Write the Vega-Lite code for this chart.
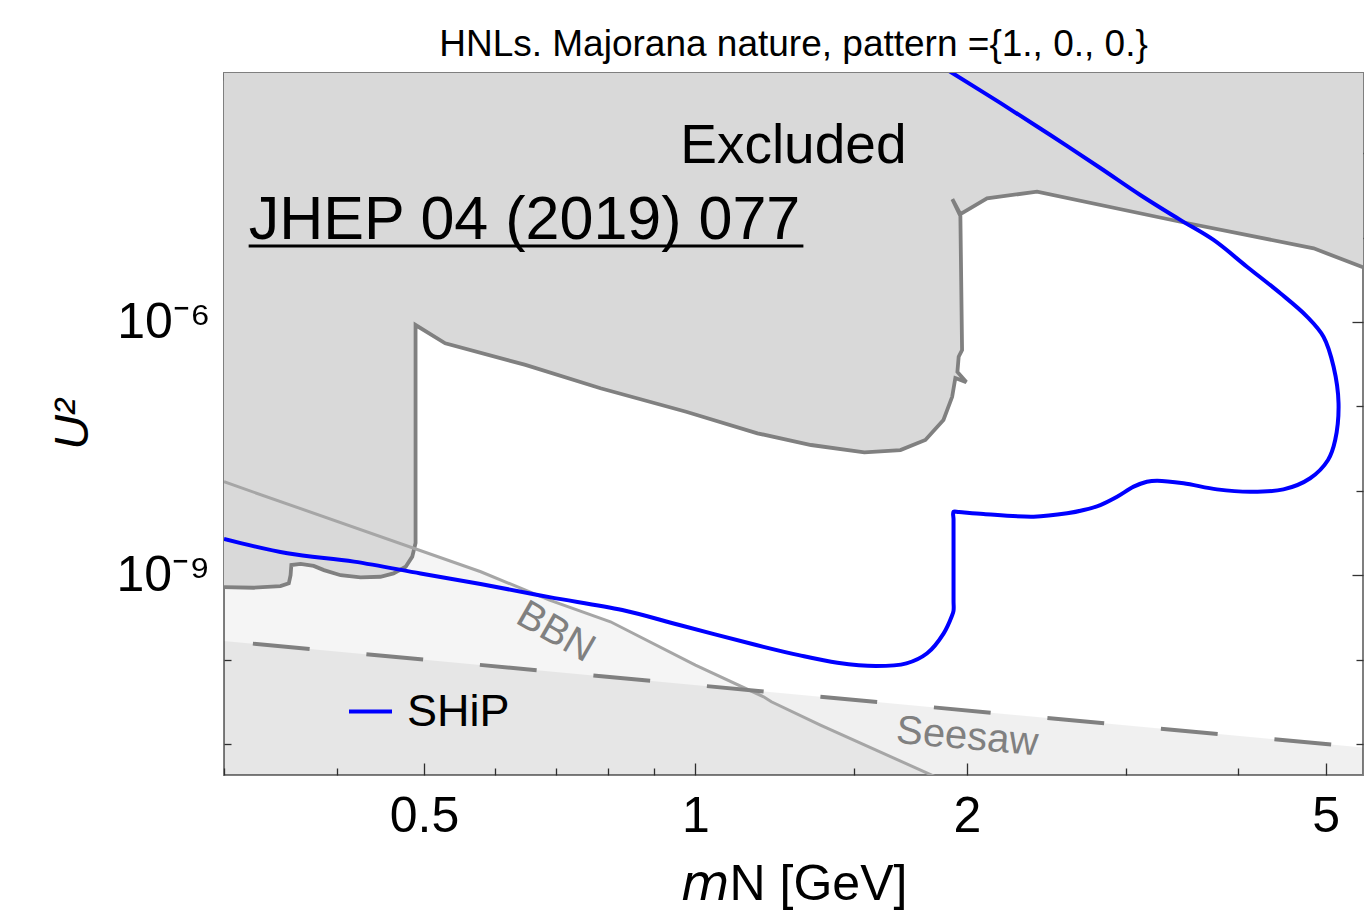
{
  "$schema": "https://vega.github.io/schema/vega-lite/v6.json",
  "width": 1139,
  "height": 702,
  "autosize": {"type": "none"},
  "padding": {"left": 224, "top": 73, "right": 1, "bottom": 143},
  "title": {"text": "HNLs. Majorana nature, pattern ={1., 0., 0.}", "fontSize": 37, "fontWeight": "normal", "font": "Liberation Sans", "color": "black", "anchor": "middle", "offset": -29, "baseline": "bottom"},
  "config": {"font": "Liberation Sans", "view": {"stroke": "#7f7f7f", "strokeWidth": 2}, "axis": {"grid": false, "domain": false}},
  "datasets": {
    "excl": [
      {"m": 0.3, "u": 7.25e-10, "k": "b"}, {"m": 0.3236, "u": 7.11e-10, "k": "b"}, {"m": 0.3465, "u": 7.45e-10, "k": "b"}, {"m": 0.354, "u": 8.02e-10, "k": "b"}, {"m": 0.3556, "u": 1.0e-9, "k": "b"}, {"m": 0.3563, "u": 1.32e-9, "k": "b"}, {"m": 0.3648, "u": 1.36e-9, "k": "b"}, {"m": 0.3772, "u": 1.29e-9, "k": "b"}, {"m": 0.3872, "u": 1.15e-9, "k": "b"}, {"m": 0.4041, "u": 1.0e-9, "k": "b"}, {"m": 0.4251, "u": 9.44e-10, "k": "b"}, {"m": 0.4473, "u": 9.6e-10, "k": "b"}, {"m": 0.4625, "u": 1.05e-9, "k": "b"}, {"m": 0.4771, "u": 1.26e-9, "k": "b"}, {"m": 0.4852, "u": 1.66e-9, "k": "b"}, {"m": 0.4893, "u": 2.41e-9, "k": "b"}, {"m": 0.4893, "u": 9.21e-7, "k": "b"}, {"m": 0.5278, "u": 5.6e-7, "k": "b"}, {"m": 0.6478, "u": 3.1e-7, "k": "b"}, {"m": 0.7846, "u": 1.64e-7, "k": "b"}, {"m": 0.9765, "u": 8.65e-8, "k": "b"}, {"m": 1.1716, "u": 4.8e-8, "k": "b"}, {"m": 1.3436, "u": 3.49e-8, "k": "b"}, {"m": 1.5394, "u": 2.86e-8, "k": "b"}, {"m": 1.6878, "u": 3.04e-8, "k": "b"}, {"m": 1.7989, "u": 4.0e-8, "k": "b"}, {"m": 1.8838, "u": 6.9e-8, "k": "b"}, {"m": 1.9262, "u": 1.3e-7, "k": "b"}, {"m": 1.9419, "u": 2.17e-7, "k": "b"}, {"m": 1.997, "u": 1.94e-7, "k": "b"}, {"m": 1.9522, "u": 2.56e-7, "k": "b"}, {"m": 1.9586, "u": 3.88e-7, "k": "b"}, {"m": 1.9756, "u": 4.66e-7, "k": "b"}, {"m": 1.9671, "u": 1.8e-5, "k": "b"}, {"m": 1.9272, "u": 2.86e-5, "k": "b"}, {"m": 1.9671, "u": 1.9e-5, "k": "b"}, {"m": 2.1057, "u": 2.92e-5, "k": "b"}, {"m": 2.3925, "u": 3.5e-5, "k": "b"}, {"m": 3.449, "u": 1.54e-5, "k": "b"}, {"m": 4.8486, "u": 7.46e-6, "k": "b"}, {"m": 5.5, "u": 4.45e-6, "k": "b"},
      {"m": 5.5, "u": 1e-3, "k": "c"}, {"m": 0.3, "u": 1e-3, "k": "c"}
    ],
    "bbn": [
      {"m": 0.3, "u": 1.28e-8}, {"m": 0.578, "u": 1.1e-9}, {"m": 0.689, "u": 5.08e-10}, {"m": 0.805, "u": 2.81e-10}, {"m": 1.0, "u": 8.63e-11}, {"m": 1.19, "u": 3.63e-11}, {"m": 1.214, "u": 3.17e-11}, {"m": 1.376, "u": 1.68e-11}, {"m": 1.845, "u": 4.1e-12}, {"m": 2.0, "u": 2.78e-12}
    ],
    "seesaw": [
      {"m": 0.3, "u": 1.667e-10}, {"m": 5.5, "u": 9.09e-12}
    ],
    "ship": [
      {"m": 0.3, "u": 2.69e-9}, {"m": 0.3527, "u": 1.82e-9}, {"m": 0.4181, "u": 1.45e-9}, {"m": 0.4956, "u": 1.05e-9}, {"m": 0.5776, "u": 7.87e-10}, {"m": 0.6887, "u": 5.5e-10}, {"m": 0.8296, "u": 3.87e-10}, {"m": 0.96, "u": 2.57e-10}, {"m": 1.168, "u": 1.49e-10}, {"m": 1.302, "u": 1.13e-10}, {"m": 1.437, "u": 9.19e-11}, {"m": 1.586, "u": 8.4e-11}, {"m": 1.714, "u": 9.04e-11}, {"m": 1.807, "u": 1.19e-10}, {"m": 1.885, "u": 2.05e-10}, {"m": 1.925, "u": 3.3e-10}, {"m": 1.933, "u": 3.8e-10}, {"m": 1.933, "u": 5.0e-10}, {"m": 1.933, "u": 1.0e-9}, {"m": 1.933, "u": 2.5e-9}, {"m": 1.933, "u": 4.6e-9}, {"m": 1.933, "u": 5.65e-9}, {"m": 1.96, "u": 5.6e-9}, {"m": 2.087, "u": 5.31e-9}, {"m": 2.372, "u": 4.94e-9}, {"m": 2.584, "u": 5.41e-9}, {"m": 2.695, "u": 5.92e-9}, {"m": 2.812, "u": 6.79e-9}, {"m": 2.935, "u": 8.51e-9}, {"m": 3.062, "u": 1.12e-8}, {"m": 3.167, "u": 1.28e-8}, {"m": 3.25, "u": 1.32e-8}, {"m": 3.478, "u": 1.23e-8}, {"m": 3.788, "u": 1.04e-8}, {"m": 4.124, "u": 9.76e-9}, {"m": 4.489, "u": 1.04e-8}, {"m": 4.806, "u": 1.41e-8}, {"m": 5.03, "u": 2.32e-8}, {"m": 5.123, "u": 4.0e-8}, {"m": 5.167, "u": 1.09e-7}, {"m": 5.102, "u": 2.95e-7}, {"m": 4.972, "u": 6.7e-7}, {"m": 4.767, "u": 1.16e-6}, {"m": 4.453, "u": 2.19e-6}, {"m": 4.089, "u": 4.52e-6}, {"m": 3.755, "u": 9.37e-6}, {"m": 3.449, "u": 1.62e-5}, {"m": 3.114, "u": 3.2e-5}, {"m": 2.812, "u": 6.68e-5}, {"m": 2.475, "u": 1.64e-4}, {"m": 2.178, "u": 3.94e-4}, {"m": 1.927, "u": 8.91e-4}, {"m": 1.826, "u": 1.27e-3}
    ]
  },
  "resolve": {"scale": {"x": "shared", "y": "shared"}, "axis": {"x": "independent", "y": "independent"}},
  "layer": [
    {
      "data": {"name": "bbn"},
      "mark": {"type": "area", "color": "black", "opacity": 0.04, "clip": true},
      "encoding": {
        "x": {"field": "m", "type": "quantitative", "scale": {"type": "log", "domain": [0.3, 5.5], "nice": false},
              "axis": {"orient": "bottom", "values": [0.5, 1, 2, 5], "format": "~g", "ticks": false, "domain": false, "labelFontSize": 50, "labelColor": "black", "labelPadding": 16, "labelFlush": false, "labelOverlap": false, "title": "𝘮N [GeV]", "titleFontSize": 50, "titleFontWeight": "normal", "titleColor": "black", "titlePadding": 18}},
        "y": {"field": "u", "type": "quantitative", "scale": {"type": "log", "domain": [4.3e-12, 8.91e-4], "nice": false},
              "axis": {"orient": "left", "values": [1e-9, 1e-6], "labelExpr": "datum.value < 1e-7 ? '10⁻⁹' : '10⁻⁶'", "ticks": false, "domain": false, "labelFontSize": 50, "labelColor": "black", "labelPadding": 14, "labelOverlap": false, "title": "U²", "titleFontSize": 48, "titleFontStyle": "italic", "titleFontWeight": "normal", "titleColor": "black", "titlePadding": 18}},
        "y2": {"datum": 1e-12}
      }
    },
    {
      "data": {"name": "seesaw"},
      "mark": {"type": "area", "color": "black", "opacity": 0.06, "clip": true},
      "encoding": {
        "x": {"field": "m", "type": "quantitative", "scale": {"type": "log", "domain": [0.3, 5.5], "nice": false},
              "axis": {"orient": "bottom", "values": [0.5, 1, 2, 5], "labels": false, "tickSize": -12, "tickWidth": 1.3, "tickColor": "#333", "domain": false, "title": null}},
        "y": {"field": "u", "type": "quantitative", "scale": {"type": "log", "domain": [4.3e-12, 8.91e-4], "nice": false},
              "axis": {"orient": "left", "values": [1e-9, 1e-6], "labels": false, "tickSize": -11, "tickWidth": 1.3, "tickColor": "#333", "domain": false, "title": null}},
        "y2": {"datum": 1e-12}
      }
    },
    {
      "data": {"name": "excl"},
      "mark": {"type": "line", "fill": "#d9d9d9", "stroke": "#d9d9d9", "strokeWidth": 0.5, "clip": true},
      "encoding": {
        "x": {"field": "m", "type": "quantitative", "scale": {"type": "log", "domain": [0.3, 5.5], "nice": false},
              "axis": {"orient": "bottom", "values": [0.3, 0.4, 0.6, 0.7, 0.8, 0.9, 1.5, 3, 4], "labels": false, "tickSize": -7, "tickWidth": 1.3, "tickColor": "#333", "domain": false, "title": null}},
        "y": {"field": "u", "type": "quantitative", "scale": {"type": "log", "domain": [4.3e-12, 8.91e-4], "nice": false},
              "axis": {"orient": "left", "values": [1e-11, 1e-10, 1e-8, 1e-7, 1e-5, 1e-4], "labels": false, "tickSize": -7, "tickWidth": 1.3, "tickColor": "#333", "domain": false, "title": null}},
        "order": {"value": null}
      }
    },
    {
      "data": {"name": "excl"},
      "transform": [{"filter": "datum.k == 'b'"}],
      "mark": {"type": "line", "color": "#808080", "strokeWidth": 3.8, "clip": true},
      "encoding": {
        "x": {"field": "m", "type": "quantitative", "scale": {"type": "log", "domain": [0.3, 5.5], "nice": false},
              "axis": {"orient": "top", "values": [0.5, 1, 2, 5], "labels": false, "tickSize": -12, "tickWidth": 1.3, "tickColor": "#333", "domain": false, "title": null}},
        "y": {"field": "u", "type": "quantitative", "scale": {"type": "log", "domain": [4.3e-12, 8.91e-4], "nice": false},
              "axis": {"orient": "right", "values": [1e-9, 1e-6], "labels": false, "tickSize": -11, "tickWidth": 1.3, "tickColor": "#333", "domain": false, "title": null}},
        "order": {"value": null}
      }
    },
    {
      "data": {"name": "bbn"},
      "mark": {"type": "line", "color": "#a6a6a6", "strokeWidth": 3, "clip": true},
      "encoding": {
        "x": {"field": "m", "type": "quantitative", "scale": {"type": "log", "domain": [0.3, 5.5], "nice": false},
              "axis": {"orient": "top", "values": [0.3, 0.4, 0.6, 0.7, 0.8, 0.9, 1.5, 3, 4], "labels": false, "tickSize": -7, "tickWidth": 1.3, "tickColor": "#333", "domain": false, "title": null}},
        "y": {"field": "u", "type": "quantitative", "scale": {"type": "log", "domain": [4.3e-12, 8.91e-4], "nice": false},
              "axis": {"orient": "right", "values": [1e-11, 1e-10, 1e-8, 1e-7, 1e-5, 1e-4], "labels": false, "tickSize": -7, "tickWidth": 1.3, "tickColor": "#333", "domain": false, "title": null}}
      }
    },
    {
      "data": {"name": "seesaw"},
      "mark": {"type": "line", "color": "#808080", "strokeWidth": 4, "strokeDash": [57, 57], "strokeDashOffset": 85, "clip": true},
      "encoding": {
        "x": {"field": "m", "type": "quantitative", "scale": {"type": "log", "domain": [0.3, 5.5], "nice": false}, "axis": null},
        "y": {"field": "u", "type": "quantitative", "scale": {"type": "log", "domain": [4.3e-12, 8.91e-4], "nice": false}, "axis": null}
      }
    },
    {
      "data": {"name": "ship"},
      "mark": {"type": "line", "strokeWidth": 4, "clip": true, "interpolate": "catmull-rom"},
      "encoding": {
        "x": {"field": "m", "type": "quantitative", "scale": {"type": "log", "domain": [0.3, 5.5], "nice": false}, "axis": null},
        "y": {"field": "u", "type": "quantitative", "scale": {"type": "log", "domain": [4.3e-12, 8.91e-4], "nice": false}, "axis": null},
        "order": {"value": null},
        "color": {"datum": "SHiP", "type": "nominal", "scale": {"range": ["#0000ff"]},
                  "legend": {"orient": "none", "legendX": 123, "legendY": 615, "title": null, "symbolType": "stroke", "symbolSize": 1849, "symbolStrokeWidth": 4, "labelFontSize": 45, "labelColor": "black", "labelOffset": 13, "padding": 0, "labelFont": "Liberation Sans"}}
      }
    },
    {
      "data": {"values": [{"m": 1.284, "u": 7.66e-5, "t": "Excluded"}]},
      "mark": {"type": "text", "fontSize": 55, "align": "center", "baseline": "alphabetic", "color": "black"},
      "encoding": {
        "x": {"field": "m", "type": "quantitative", "scale": {"type": "log", "domain": [0.3, 5.5], "nice": false}, "axis": null},
        "y": {"field": "u", "type": "quantitative", "scale": {"type": "log", "domain": [4.3e-12, 8.91e-4], "nice": false}, "axis": null},
        "text": {"field": "t"}
      }
    },
    {
      "data": {"values": [{"m": 0.3195, "u": 9.6e-6, "t": "JHEP 04 (2019) 077"}]},
      "mark": {"type": "text", "fontSize": 61, "align": "left", "baseline": "alphabetic", "color": "black"},
      "encoding": {
        "x": {"field": "m", "type": "quantitative", "scale": {"type": "log", "domain": [0.3, 5.5], "nice": false}, "axis": null},
        "y": {"field": "u", "type": "quantitative", "scale": {"type": "log", "domain": [4.3e-12, 8.91e-4], "nice": false}, "axis": null},
        "text": {"field": "t"}
      }
    },
    {
      "data": {"values": [{"m": 0.3195, "m2": 1.3174, "u": 7.95e-6}]},
      "mark": {"type": "rule", "color": "black", "strokeWidth": 3},
      "encoding": {
        "x": {"field": "m", "type": "quantitative", "scale": {"type": "log", "domain": [0.3, 5.5], "nice": false}, "axis": null},
        "x2": {"field": "m2"},
        "y": {"field": "u", "type": "quantitative", "scale": {"type": "log", "domain": [4.3e-12, 8.91e-4], "nice": false}, "axis": null}
      }
    },
    {
      "data": {"values": [{"m": 0.6996, "u": 2.12e-10, "t": "BBN"}]},
      "mark": {"type": "text", "fontSize": 40, "align": "center", "baseline": "middle", "angle": 30, "color": "#808080"},
      "encoding": {
        "x": {"field": "m", "type": "quantitative", "scale": {"type": "log", "domain": [0.3, 5.5], "nice": false}, "axis": null},
        "y": {"field": "u", "type": "quantitative", "scale": {"type": "log", "domain": [4.3e-12, 8.91e-4], "nice": false}, "axis": null},
        "text": {"field": "t"}
      }
    },
    {
      "data": {"values": [{"m": 2.002, "u": 1.21e-11, "t": "Seesaw"}]},
      "mark": {"type": "text", "fontSize": 40, "align": "center", "baseline": "middle", "angle": 5, "color": "#808080"},
      "encoding": {
        "x": {"field": "m", "type": "quantitative", "scale": {"type": "log", "domain": [0.3, 5.5], "nice": false}, "axis": null},
        "y": {"field": "u", "type": "quantitative", "scale": {"type": "log", "domain": [4.3e-12, 8.91e-4], "nice": false}, "axis": null},
        "text": {"field": "t"}
      }
    }
  ]
}
